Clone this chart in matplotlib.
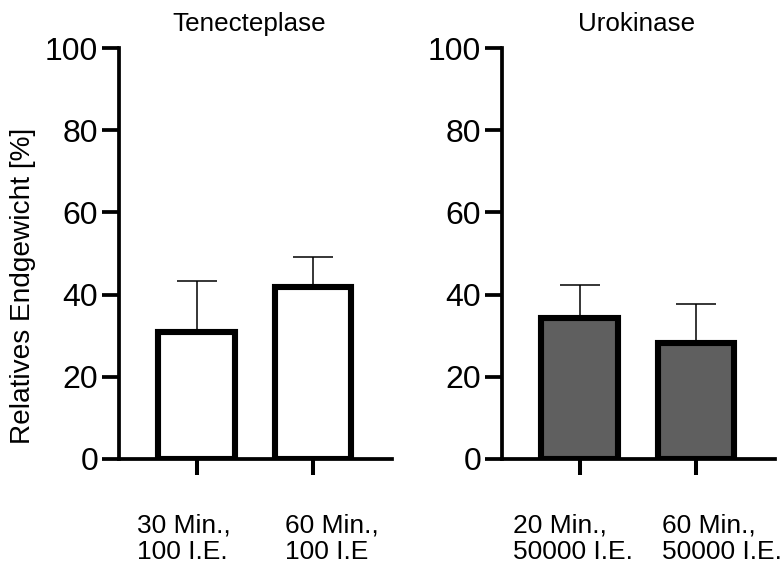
import numpy as np
import matplotlib
matplotlib.use("Agg")
import matplotlib.pyplot as plt

plt.rcParams['font.family'] = ['Liberation Sans', 'DejaVu Sans']

# data
panel_titles = ["Tenecteplase", "Urokinase"]
labels_tnk = ["30 Min.,\n100 I.E.", "60 Min.,\n100 I.E"]
means_tnk = [31.0, 41.8]
sd_tnk = [12.2, 7.3]
labels_uk = ["20 Min.,\n50000 I.E.", "60 Min.,\n50000 I.E."]
means_uk = [34.2, 28.3]
sd_uk = [8.2, 9.4]

yticks = [0, 20, 40, 60, 80, 100]
fills = ["white", "#5f5f5f"]
# label left edge offset from tick (px), like the reference
label_dx = [[-60, -28], [-67, -34]]
title_x = [0.478, 0.493]

fig = plt.figure(figsize=(7.84, 5.70), dpi=100)
ax1 = fig.add_axes([119/784, 111/570, 273/784, 411/570])
ax2 = fig.add_axes([502/784, 111/570, 273/784, 411/570])

panels = [(ax1, labels_tnk, means_tnk, sd_tnk),
          (ax2, labels_uk, means_uk, sd_uk)]

for i, (ax, lab, m, s) in enumerate(panels):
    x = np.arange(len(m))
    ax.errorbar(x, m, yerr=[np.zeros(len(s)), s], fmt='none', ecolor='black',
                elinewidth=1.1, capsize=14.5, capthick=1.1, zorder=1)
    ax.bar(x, m, width=0.66, color=fills[i], edgecolor='black', linewidth=4.4, zorder=2)
    ax.set_xlim(-0.67, 1.68)
    ax.set_ylim(0, 100)
    ax.set_yticks(yticks)
    ax.set_xticks(x)
    ax.set_xticklabels([])
    for xi, txt, dx in zip(x, lab, label_dx[i]):
        ax.annotate(txt, xy=(xi, 0), xycoords=('data', 'axes fraction'),
                    xytext=(dx*0.72, -55*0.72), textcoords='offset points',
                    ha='left', va='top', fontsize=19, linespacing=1.12,
                    annotation_clip=False)
    ax.tick_params(axis='y', labelsize=23, width=2.7, length=12, pad=3)
    ax.tick_params(axis='x', width=2.9, length=11.5)
    for sp in ['top', 'right']:
        ax.spines[sp].set_visible(False)
    for sp in ['left', 'bottom']:
        ax.spines[sp].set_linewidth(2.7)
    ax.spines['left'].set_capstyle('projecting')
    ax.set_title(panel_titles[i], fontsize=18.7, pad=12, x=title_x[i])

fig.text(23/784, 1 - 286/570, "Relatives Endgewicht [%]", rotation=90,
         fontsize=20.2, ha='center', va='center')

fig.savefig("out.png", dpi=100)
